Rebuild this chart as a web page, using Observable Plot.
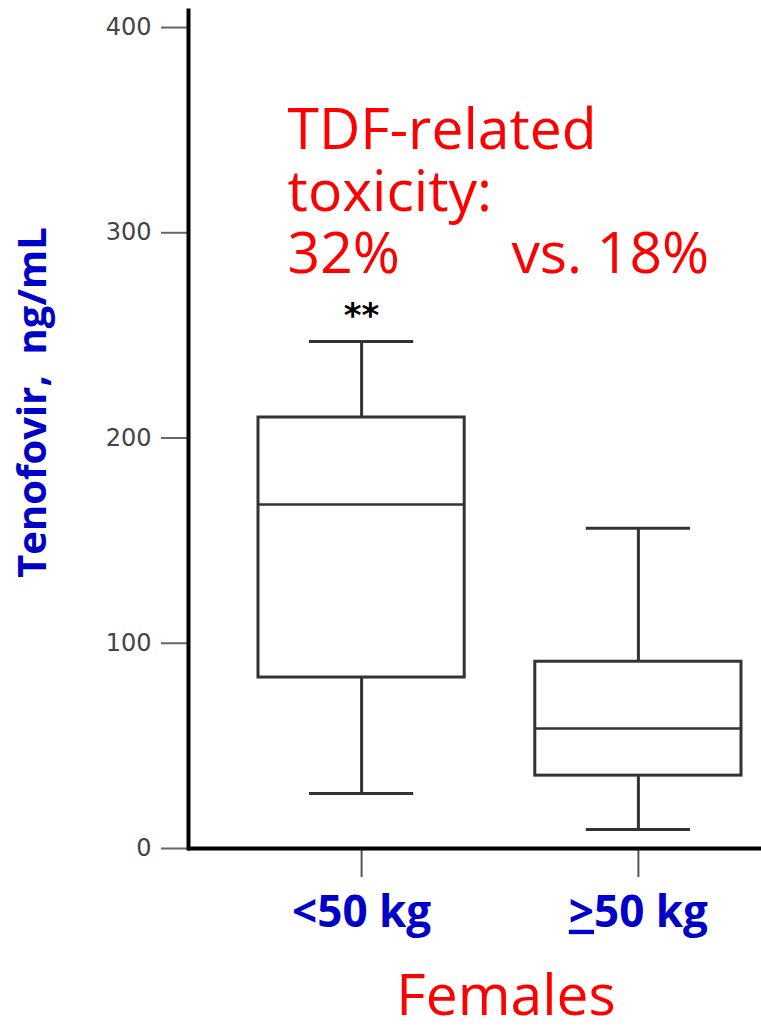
<!DOCTYPE html>
<html><head><meta charset="utf-8">
<script src="https://cdn.jsdelivr.net/npm/d3@7"></script>
<script src="https://cdn.jsdelivr.net/npm/@observablehq/plot@0.6"></script>
<style>body{margin:0;background:#fff}</style></head>
<body><div id="chart"></div>
<script>
// ---- data ----
const groups = ["<50 kg", ">50 kg"];
const whiskerLow = [26.8, 9.3];
const q1 = [83.3, 35.5];
const median = [167.6, 58.5];
const q3 = [210, 91];
const whiskerHigh = [247, 156];
const yTicks = [0, 100, 200, 300, 400];
const annotation = ["TDF-related", "toxicity:", "32%"];
const comparison = "vs. 18%";
const significance = "**";
const xTitle = "Females";
const yTitle = "Tenofovir,  ng/mL";

const boxes = groups.map((g, i) => ({group: g, lo: whiskerLow[i], q1: q1[i], med: median[i], q3: q3[i], hi: whiskerHigh[i]}));

const boxStroke = "#333";
const blue = "#0000c8";
const red = "#ff0000";
const labelFont = "Open Sans";

const chart = Plot.plot({
  width: 761,
  height: 1031,
  marginLeft: 188,
  marginRight: 0,
  marginTop: 10,
  marginBottom: 183,
  style: {fontFamily: "DejaVu Sans", background: "#fff"},
  x: {domain: groups, range: [258, 741], paddingInner: 0.255, paddingOuter: 0, round: false, axis: null},
  y: {domain: [0, 408.3], axis: null},
  marks: [
    // whiskers
    Plot.ruleX(boxes, {x: "group", y1: "q3", y2: "hi", stroke: boxStroke, strokeWidth: 3}),
    Plot.ruleX(boxes, {x: "group", y1: "lo", y2: "q1", stroke: boxStroke, strokeWidth: 3}),
    Plot.tickY(boxes, {x: "group", y: "hi", stroke: boxStroke, strokeWidth: 3, insetLeft: 51, insetRight: 51}),
    Plot.tickY(boxes, {x: "group", y: "lo", stroke: boxStroke, strokeWidth: 3, insetLeft: 51, insetRight: 51}),
    // boxes
    Plot.barY(boxes, {x: "group", y1: "q1", y2: "q3", fill: "none", stroke: boxStroke, strokeWidth: 3}),
    Plot.tickY(boxes, {x: "group", y: "med", stroke: boxStroke, strokeWidth: 2.5}),
    // axes
    Plot.axisY({ticks: yTicks, tickSize: 27, tickPadding: 10, fontSize: 24, fill: "#444", stroke: "#666", strokeWidth: 2, label: null}),
    Plot.axisX({tickSize: 29, tickPadding: 18, fontSize: 44, fontWeight: "bold", fontFamily: labelFont, fill: blue, stroke: "#555", strokeWidth: 2, label: null}),
    Plot.ruleY([0], {stroke: "#000", strokeWidth: 4}),
    Plot.frame({anchor: "left", stroke: "#000", strokeWidth: 4}),
    // annotations
    Plot.text([annotation.join("\n")], {x: () => groups[0], y: () => 280.6, text: d => d, textAnchor: "start", lineAnchor: "bottom", lineHeight: 1.088, dx: -74, fontSize: 57, fontFamily: labelFont, fill: red}),
    Plot.text([comparison], {x: () => groups[1], y: () => 280.6, text: d => d, textAnchor: "start", lineAnchor: "bottom", dx: -127, fontSize: 57, fontFamily: labelFont, fill: red}),
    Plot.text(boxes.slice(0, 1), {x: "group", y: "hi", text: () => significance, lineAnchor: "bottom", dy: -15, fontSize: 34, fontWeight: "bold", fill: "#000"}),
    Plot.text([yTitle], {frameAnchor: "left", text: d => d, rotate: -90, textAnchor: "middle", lineAnchor: "bottom", dx: -143, dy: -27, fontSize: 40, fontWeight: "bold", fontFamily: labelFont, fill: blue}),
    Plot.text([xTitle], {frameAnchor: "bottom", text: d => d, textAnchor: "middle", lineAnchor: "bottom", dx: 31, dy: 166, fontSize: 57, fontFamily: labelFont, fill: red})
  ]
});

// underline the ">" of the second group label (≥)
chart.querySelectorAll("text").forEach(t => {
  if (t.textContent === groups[1]) {
    t.textContent = "";
    const ns = "http://www.w3.org/2000/svg";
    const a = document.createElementNS(ns, "tspan");
    a.textContent = groups[1].slice(0, 1);
    a.setAttribute("text-decoration", "underline");
    a.style.textDecoration = "underline";
    const b = document.createElementNS(ns, "tspan");
    b.textContent = groups[1].slice(1);
    t.appendChild(a); t.appendChild(b);
  }
});
document.getElementById("chart").appendChild(chart);
</script>
</body></html>
